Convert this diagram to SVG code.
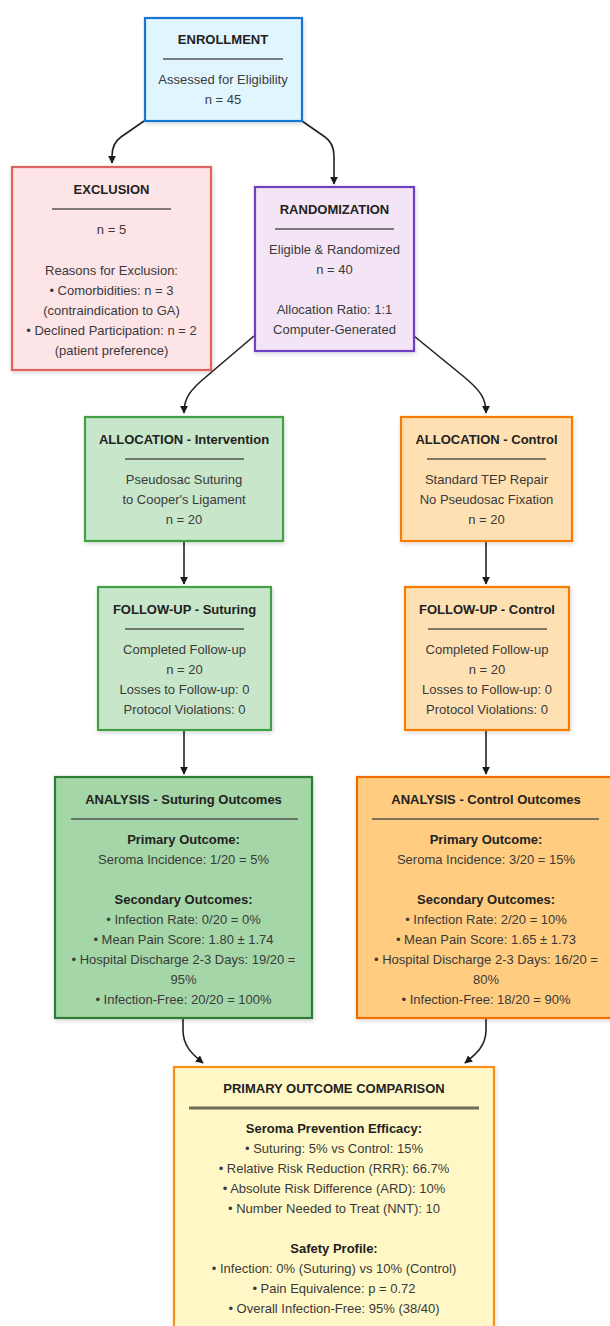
<svg xmlns="http://www.w3.org/2000/svg" width="610" height="1326" viewBox="0 0 610 1326">
<defs>
  <marker id="ah" viewBox="0 0 10 10" refX="9" refY="5" markerWidth="8" markerHeight="8" markerUnits="userSpaceOnUse" orient="auto">
    <path d="M0,0 L10,5 L0,10 z" fill="#1a1a1a"/>
  </marker>
  <filter id="sh" x="-10%" y="-10%" width="120%" height="120%">
    <feDropShadow dx="1" dy="2" stdDeviation="2" flood-color="#000" flood-opacity="0.15"/>
  </filter>
</defs>
<style>
  .box { stroke-width: 2.2; filter: url(#sh); }
  .t { font-family: "Liberation Sans", Arial, sans-serif; font-size: 13px; text-anchor: middle; fill: #3a3a3a; }
  .b { font-weight: bold; fill: #222; }
  .div { stroke: #4a4a4a; stroke-opacity: 0.7; stroke-width: 2; }
  .conn { fill: none; stroke: #222; stroke-width: 1.6; marker-end: url(#ah); }
</style>
<rect width="610" height="1326" fill="#ffffff"/>

<g id="connectors">
  <path class="conn" d="M144,121 L121,137 C114,142 112,148 112,156 L112,163"/>
  <path class="conn" d="M302,121 L325,137 C332,142 334,148 334,156 L334,184"/>
  <path class="conn" d="M254,336 L207,376 C190,390 184,398 184,413"/>
  <path class="conn" d="M414,336 L463,376 C480,390 486,398 486,413"/>
  <path class="conn" d="M184,542 L184,584"/>
  <path class="conn" d="M486,542 L486,584"/>
  <path class="conn" d="M184,731 L184,774"/>
  <path class="conn" d="M486,731 L486,774"/>
  <path class="conn" d="M183,1019 L183,1030 C183,1046 192,1054 203,1063"/>
  <path class="conn" d="M486,1019 L486,1030 C486,1046 476,1054 465,1063"/>
</g>

<g id="enrollment">
  <rect class="box" x="145" y="18" width="157" height="103" fill="#e1f5fe" stroke="#1976d2"/>
  <text class="t b" x="223" y="43.5">ENROLLMENT</text>
  <line class="div" x1="163" y1="59" x2="283" y2="59"/>
  <text class="t" x="223" y="83.5">Assessed for Eligibility</text>
  <text class="t" x="223" y="103.5">n = 45</text>
</g>

<g id="exclusion">
  <rect class="box" x="12" y="167" width="199" height="203" fill="#fde4e7" stroke="#e06464"/>
  <text class="t b" x="111.5" y="193.5">EXCLUSION</text>
  <line class="div" x1="52" y1="209" x2="171" y2="209"/>
  <text class="t" x="111.5" y="234">n = 5</text>
  <text class="t" x="111.5" y="274.5">Reasons for Exclusion:</text>
  <text class="t" x="111.5" y="294.5">• Comorbidities: n = 3</text>
  <text class="t" x="111.5" y="314.5">(contraindication to GA)</text>
  <text class="t" x="111.5" y="334.5">• Declined Participation: n = 2</text>
  <text class="t" x="111.5" y="354.5">(patient preference)</text>
</g>

<g id="randomization">
  <rect class="box" x="255" y="187" width="159" height="164" fill="#f3e5f5" stroke="#6e3fc2"/>
  <text class="t b" x="334.5" y="213.5">RANDOMIZATION</text>
  <line class="div" x1="275" y1="229" x2="394" y2="229"/>
  <text class="t" x="334.5" y="253.5">Eligible &amp; Randomized</text>
  <text class="t" x="334.5" y="273.5">n = 40</text>
  <text class="t" x="334.5" y="313.5">Allocation Ratio: 1:1</text>
  <text class="t" x="334.5" y="333.5">Computer-Generated</text>
</g>

<g id="allocation-intervention">
  <rect class="box" x="85" y="417" width="198" height="124" fill="#c8e6c9" stroke="#43a047"/>
  <text class="t b" x="184" y="443.5">ALLOCATION - Intervention</text>
  <line class="div" x1="125" y1="459" x2="244" y2="459"/>
  <text class="t" x="184" y="483.5">Pseudosac Suturing</text>
  <text class="t" x="184" y="503.5">to Cooper's Ligament</text>
  <text class="t" x="184" y="523.5">n = 20</text>
</g>

<g id="allocation-control">
  <rect class="box" x="401" y="417" width="171" height="124" fill="#ffe0b2" stroke="#f57c00"/>
  <text class="t b" x="486.5" y="443.5">ALLOCATION - Control</text>
  <line class="div" x1="427" y1="459" x2="546" y2="459"/>
  <text class="t" x="486.5" y="483.5">Standard TEP Repair</text>
  <text class="t" x="486.5" y="503.5">No Pseudosac Fixation</text>
  <text class="t" x="486.5" y="523.5">n = 20</text>
</g>

<g id="followup-suturing">
  <rect class="box" x="98" y="587" width="173" height="143" fill="#c8e6c9" stroke="#43a047"/>
  <text class="t b" x="184.5" y="613.5">FOLLOW-UP - Suturing</text>
  <line class="div" x1="125" y1="629" x2="244" y2="629"/>
  <text class="t" x="184.5" y="653.5">Completed Follow-up</text>
  <text class="t" x="184.5" y="673.5">n = 20</text>
  <text class="t" x="184.5" y="693.5">Losses to Follow-up: 0</text>
  <text class="t" x="184.5" y="713.5">Protocol Violations: 0</text>
</g>

<g id="followup-control">
  <rect class="box" x="405" y="587" width="164" height="143" fill="#ffe0b2" stroke="#f57c00"/>
  <text class="t b" x="487" y="613.5">FOLLOW-UP - Control</text>
  <line class="div" x1="428" y1="629" x2="547" y2="629"/>
  <text class="t" x="487" y="653.5">Completed Follow-up</text>
  <text class="t" x="487" y="673.5">n = 20</text>
  <text class="t" x="487" y="693.5">Losses to Follow-up: 0</text>
  <text class="t" x="487" y="713.5">Protocol Violations: 0</text>
</g>

<g id="analysis-suturing">
  <rect class="box" x="55" y="777" width="257" height="241" fill="#a5d6a7" stroke="#2e7d32"/>
  <text class="t b" x="183.5" y="803.5">ANALYSIS - Suturing Outcomes</text>
  <line class="div" x1="71" y1="819" x2="298" y2="819"/>
  <text class="t b" x="183.5" y="843.5">Primary Outcome:</text>
  <text class="t" x="183.5" y="863.5">Seroma Incidence: 1/20 = 5%</text>
  <text class="t b" x="183.5" y="903.5">Secondary Outcomes:</text>
  <text class="t" x="183.5" y="923.5">• Infection Rate: 0/20 = 0%</text>
  <text class="t" x="183.5" y="943.5">• Mean Pain Score: 1.80 ± 1.74</text>
  <text class="t" x="183.5" y="963.5">• Hospital Discharge 2-3 Days: 19/20 =</text>
  <text class="t" x="183.5" y="983.5">95%</text>
  <text class="t" x="183.5" y="1003.5">• Infection-Free: 20/20 = 100%</text>
</g>

<g id="analysis-control">
  <rect class="box" x="357" y="777" width="258" height="241" fill="#ffcc80" stroke="#ef6c00"/>
  <text class="t b" x="486" y="803.5">ANALYSIS - Control Outcomes</text>
  <line class="div" x1="372" y1="819" x2="599" y2="819"/>
  <text class="t b" x="486" y="843.5">Primary Outcome:</text>
  <text class="t" x="486" y="863.5">Seroma Incidence: 3/20 = 15%</text>
  <text class="t b" x="486" y="903.5">Secondary Outcomes:</text>
  <text class="t" x="486" y="923.5">• Infection Rate: 2/20 = 10%</text>
  <text class="t" x="486" y="943.5">• Mean Pain Score: 1.65 ± 1.73</text>
  <text class="t" x="486" y="963.5">• Hospital Discharge 2-3 Days: 16/20 =</text>
  <text class="t" x="486" y="983.5">80%</text>
  <text class="t" x="486" y="1003.5">• Infection-Free: 18/20 = 90%</text>
</g>

<g id="primary-outcome-comparison">
  <rect class="box" x="174" y="1067" width="320" height="280" fill="#fff8c6" stroke="#f5901f"/>
  <text class="t b" x="334" y="1092.5">PRIMARY OUTCOME COMPARISON</text>
  <line class="div" x1="189" y1="1108" x2="479" y2="1108" style="stroke-width:3;stroke:#5e5e4e;stroke-opacity:0.9"/>
  <text class="t b" x="334" y="1132.5">Seroma Prevention Efficacy:</text>
  <text class="t" x="334" y="1152.5">• Suturing: 5% vs Control: 15%</text>
  <text class="t" x="334" y="1172.5">• Relative Risk Reduction (RRR): 66.7%</text>
  <text class="t" x="334" y="1192.5">• Absolute Risk Difference (ARD): 10%</text>
  <text class="t" x="334" y="1212.5">• Number Needed to Treat (NNT): 10</text>
  <text class="t b" x="334" y="1252.5">Safety Profile:</text>
  <text class="t" x="334" y="1272.5">• Infection: 0% (Suturing) vs 10% (Control)</text>
  <text class="t" x="334" y="1292.5">• Pain Equivalence: p = 0.72</text>
  <text class="t" x="334" y="1312.5">• Overall Infection-Free: 95% (38/40)</text>
</g>
</svg>
